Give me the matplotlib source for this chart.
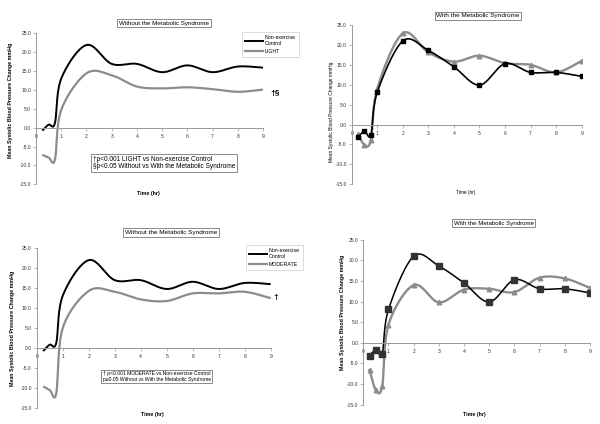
import matplotlib
matplotlib.use('Agg')
import matplotlib.pyplot as plt
import numpy as np
from matplotlib.ticker import FormatStrFormatter
from matplotlib.lines import Line2D

plt.rcParams['font.family'] = ['Liberation Sans', 'DejaVu Sans']
plt.rcParams['axes.unicode_minus'] = False

# ---- data ----
hours = [0.25, 0.5, 0.75, 1, 2, 3, 4, 5, 6, 7, 8, 9]
control_without = [-0.8, 0.8, 1.2, 13.0, 21.9, 16.9, 16.9, 14.7, 16.5, 14.7, 16.2, 15.9]
light_without = [-7.2, -7.9, -8.5, 4.7, 14.4, 13.9, 10.9, 10.4, 10.7, 10.2, 9.5, 10.1]
moderate_without = [-9.6, -10.5, -11.4, 4.9, 14.2, 14.0, 12.1, 11.7, 13.6, 13.6, 14.0, 12.4]
control_with = [-3.1, -1.7, -2.6, 8.1, 21.0, 18.6, 14.5, 9.9, 15.3, 13.1, 13.1, 12.1]
light_with = [-2.4, -5.1, -3.9, 9.0, 22.9, 18.1, 15.8, 17.3, 15.4, 15.0, 13.1, 16.0]
moderate_with = [-6.6, -11.5, -10.5, 4.4, 14.0, 9.8, 12.9, 13.1, 12.3, 15.8, 15.6, 13.3]

x_ticks = [0, 1, 2, 3, 4, 5, 6, 7, 8, 9]
y_ticks = [-15, -10, -5, 0, 5, 10, 15, 20, 25]
title_without = "Without the Metabolic Syndrome"
title_with = "With the Metabolic Syndrome"
ylabel = "Mean Systolic Blood Pressure Change mmHg"
xlabel = "Time (hr)"
control_label = "Non-exercise\nControl"
note_light = "\u2020p<0.001 LIGHT vs Non-exercise Control\n\u00a7p<0.05 Without vs With the Metabolic Syndrome"
note_moderate = "\u2020 p<0.001 MODERATE vs Non-exercise Control\np\u22650.05 Without vs With the Metabolic Syndrome"

W, H = 600, 424
fig = plt.figure(figsize=(6, 4.24), dpi=100)
fig.patch.set_facecolor('white')

def fx(px):
    return px / W

def fy(py):
    return 1 - py / H

GRAY = '#8c8c8c'
AXC = '#999999'


def make_ax(x0, x1, ytop, ybot):
    ax = fig.add_axes([fx(x0), fy(ybot), (x1 - x0) / W, (ybot - ytop) / H])
    ax.set_xlim(0, 9)
    ax.set_ylim(-15, 25)
    for s in ['top', 'right']:
        ax.spines[s].set_visible(False)
    ax.spines['left'].set_position(('data', 0))
    ax.spines['bottom'].set_position(('data', 0))
    for s in ['left', 'bottom']:
        ax.spines[s].set_color(AXC)
        ax.spines[s].set_linewidth(0.7)
    ax.set_xticks(x_ticks)
    ax.set_yticks(y_ticks)
    ax.yaxis.set_major_formatter(FormatStrFormatter('%.1f'))
    ax.tick_params(axis='both', labelsize=3.6, length=2, width=0.5, color=AXC,
                   labelcolor='#333333', pad=1.5)
    ax.tick_params(axis='x', pad=2.5)
    ax.patch.set_alpha(0)
    sx = (x1 - x0) / 9.0
    sy = (ybot - ytop) / 40.0
    return ax, sx, sy


def smooth(x, y, sx, sy):
    P = np.column_stack([np.asarray(x, float) * sx, np.asarray(y, float) * sy])
    n = len(P)
    t = np.linspace(0, 1, 40)[1:]
    out = [P[0]]
    for i in range(n - 1):
        p0 = P[i - 1] if i > 0 else P[i]
        p1 = P[i]
        p2 = P[i + 1]
        p3 = P[i + 2] if i + 2 < n else P[i + 1]
        c1 = p1 + (p2 - p0) / 6.0
        c2 = p2 - (p3 - p1) / 6.0
        seg = (((1 - t) ** 3)[:, None] * p1 + (3 * (1 - t) ** 2 * t)[:, None] * c1
               + (3 * (1 - t) * t ** 2)[:, None] * c2 + (t ** 3)[:, None] * p2)
        out.extend(seg)
    out = np.array(out)
    return out[:, 0] / sx, out[:, 1] / sy


def title_box(cx, cy, text, size):
    fig.text(fx(cx), fy(cy), text, ha='center', va='center', fontsize=size,
             bbox=dict(boxstyle='square,pad=0.25', fc='white', ec='#777777', lw=0.6))


# ---------------- Panel 1 ----------------
ax1, sx, sy = make_ax(36, 263, 33.3, 184.3)
xs, ys = smooth(hours, control_without, sx, sy)
ax1.plot(xs, ys, color='black', lw=1.4, solid_capstyle='butt')
xs, ys = smooth(hours, light_without, sx, sy)
ax1.plot(xs, ys, color=GRAY, lw=1.6, solid_capstyle='butt')
title_box(164, 23, title_without, 4.5)
fig.text(fx(148), fy(193), xlabel, ha='center', va='center', fontsize=3.8, weight='bold')
fig.text(fx(11), fy(100), ylabel, ha='center', va='center', fontsize=3.8,
         weight='bold', rotation=90)
fig.text(fx(93), fy(163), note_light, ha='left', va='center', fontsize=4.7,
         linespacing=1.1,
         bbox=dict(boxstyle='square,pad=0.25', fc='white', ec='#777777', lw=0.6))
fig.text(fx(275), fy(93), "\u2020\u00a7", ha='center', va='center', fontsize=6, weight='bold')
h1 = [Line2D([], [], color='black', lw=1.4), Line2D([], [], color=GRAY, lw=1.6)]
leg1 = ax1.legend(h1, [control_label, "LIGHT"], loc='upper left',
                  bbox_to_anchor=(fx(242), fy(32)), bbox_transform=fig.transFigure,
                  fontsize=3.8, frameon=True, fancybox=False, handlelength=3.4,
                  handletextpad=0.3, borderpad=0.6, labelspacing=0.5, borderaxespad=0)
leg1.get_frame().set_edgecolor('#cccccc')
leg1.get_frame().set_linewidth(0.6)

# ---------------- Panel 2 ----------------
ax2, sx, sy = make_ax(351.7, 581.7, 25, 184.3)
xs, ys = smooth(hours, light_with, sx, sy)
ax2.plot(xs, ys, color=GRAY, lw=1.7)
ax2.plot(hours, light_with, ls='none', marker='^', ms=3.3, color=GRAY)
xs, ys = smooth(hours, control_with, sx, sy)
ax2.plot(xs, ys, color='black', lw=1.2)
ax2.plot(hours, control_with, ls='none', marker='s', ms=2.4, color='black')
title_box(478, 15.7, title_with, 4.6)
fig.text(fx(466), fy(192.7), xlabel, ha='center', va='center', fontsize=3.4)
fig.text(fx(332), fy(112), ylabel, ha='center', va='center', fontsize=3.5, rotation=90)

# ---------------- Panel 3 ----------------
ax3, sx, sy = make_ax(36.7, 270.7, 247.7, 408)
xs, ys = smooth(hours, control_without, sx, sy)
ax3.plot(xs, ys, color='black', lw=1.4, solid_capstyle='butt')
xs, ys = smooth(hours, moderate_without, sx, sy)
ax3.plot(xs, ys, color=GRAY, lw=1.6, solid_capstyle='butt')
title_box(171, 232.5, title_without, 4.6)
fig.text(fx(152), fy(414.7), xlabel, ha='center', va='center', fontsize=3.8, weight='bold')
fig.text(fx(12.3), fy(328.7), ylabel, ha='center', va='center', fontsize=3.8,
         weight='bold', rotation=90)
fig.text(fx(156.7), fy(376.7), note_moderate, ha='center', va='center', fontsize=3.6,
         linespacing=1.1, multialignment='left',
         bbox=dict(boxstyle='square,pad=0.25', fc='white', ec='#777777', lw=0.6))
fig.text(fx(276), fy(297), "\u2020", ha='center', va='center', fontsize=6, weight='bold')
h3 = [Line2D([], [], color='black', lw=1.4), Line2D([], [], color=GRAY, lw=1.6)]
leg3 = ax3.legend(h3, [control_label, "MODERATE"], loc='upper left',
                  bbox_to_anchor=(fx(245.7), fy(245)), bbox_transform=fig.transFigure,
                  fontsize=3.8, frameon=True, fancybox=False, handlelength=3.4,
                  handletextpad=0.3, borderpad=0.6, labelspacing=0.5, borderaxespad=0)
leg3.get_frame().set_edgecolor('#cccccc')
leg3.get_frame().set_linewidth(0.6)

# ---------------- Panel 4 ----------------
ax4, sx, sy = make_ax(363.3, 590, 239.7, 404.7)
xs, ys = smooth(hours, moderate_with, sx, sy)
ax4.plot(xs, ys, color=GRAY, lw=1.7)
ax4.plot(hours, moderate_with, ls='none', marker='^', ms=3.3, color=GRAY)
xs, ys = smooth(hours, control_with, sx, sy)
ax4.plot(xs, ys, color='black', lw=1.1)
ax4.plot(hours, control_with, ls='none', marker='s', ms=3.8, color='#333333')
title_box(493.5, 223, title_with, 4.4)
fig.text(fx(474), fy(414.7), xlabel, ha='center', va='center', fontsize=3.8, weight='bold')
fig.text(fx(342.3), fy(312), ylabel, ha='center', va='center', fontsize=3.8,
         weight='bold', rotation=90)

fig.savefig('out.png', dpi=100, facecolor='white')
